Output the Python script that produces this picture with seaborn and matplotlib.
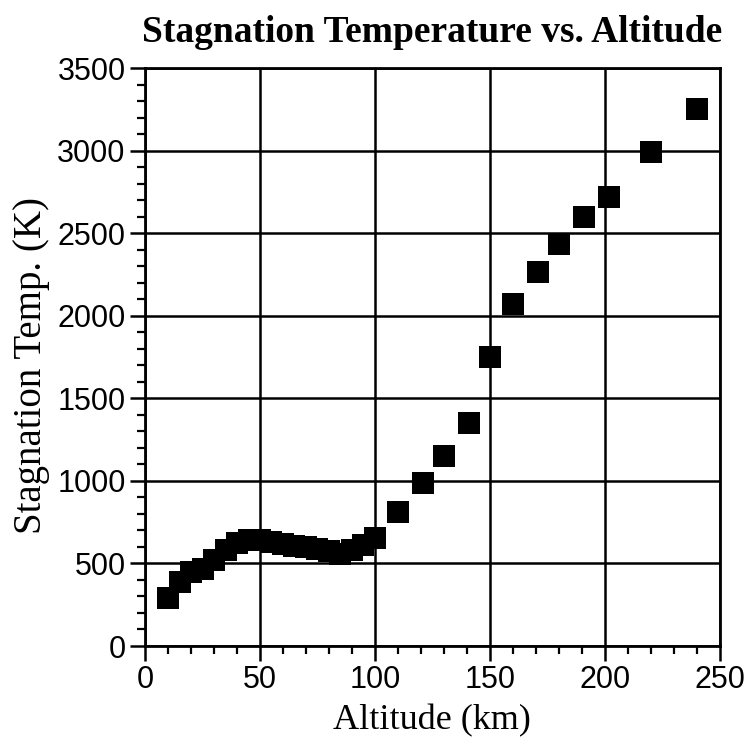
import matplotlib
matplotlib.use("Agg")
import matplotlib.pyplot as plt
from matplotlib.ticker import MultipleLocator
import seaborn as sns
import pandas as pd

# Data
altitude_km = [10, 15, 20, 25, 30, 35, 40, 45, 50, 55, 60, 65, 70, 75, 80, 85, 90, 95, 100,
               110, 121, 130, 141, 150, 160, 171, 180, 191, 202, 220, 240]
stag_temp_K = [292, 386, 447, 467, 519, 580, 624, 640, 640, 632, 620, 608, 598, 588, 578, 560, 580, 610, 655,
               812, 988, 1152, 1352, 1752, 2073, 2267, 2436, 2600, 2721, 2994, 3254]

title_text = "Stagnation Temperature vs. Altitude"
x_label = "Altitude (km)"
y_label = "Stagnation Temp. (K)"
x_ticks = [0, 50, 100, 150, 200, 250]
y_ticks = [0, 500, 1000, 1500, 2000, 2500, 3000, 3500]

df = pd.DataFrame({"alt": altitude_km, "temp": stag_temp_K})

sns.set_theme(style="white")
plt.rcParams["font.family"] = ["Liberation Sans", "DejaVu Sans"]
plt.rcParams["text.color"] = "black"
plt.rcParams["axes.labelcolor"] = "black"

fig = plt.figure(figsize=(7.48, 7.49), dpi=100)
ax = fig.add_axes([0.194, 0.1375, 0.768, 0.7717])

sns.scatterplot(data=df, x="alt", y="temp", marker="s", s=230, color="black",
                linewidth=0, ax=ax, zorder=3, legend=False)

ax.set_xlim(0, 250)
ax.set_ylim(0, 3500)
ax.set_xticks(x_ticks)
ax.set_yticks(y_ticks)
ax.xaxis.set_minor_locator(MultipleLocator(10))
ax.yaxis.set_minor_locator(MultipleLocator(100))
ax.grid(True, which="major", color="black", linewidth=1.8, zorder=1)
ax.set_axisbelow(True)

for sp in ax.spines.values():
    sp.set_color("black")
    sp.set_linewidth(2.0)

ax.tick_params(axis="both", which="major", direction="out", length=11, width=1.8,
               colors="black", labelcolor="black", labelsize=22, pad=3, left=True, bottom=True)
ax.tick_params(axis="both", which="minor", direction="out", length=6, width=1.6,
               colors="black", left=True, bottom=True)
for lab in ax.get_xticklabels() + ax.get_yticklabels():
    lab.set_family(["Liberation Sans", "DejaVu Sans"])

ax.set_xlabel(x_label, fontsize=26, color="black",
              family=["Liberation Serif", "DejaVu Serif"], labelpad=6)
ax.set_ylabel(y_label, fontsize=28, color="black",
              family=["Liberation Serif", "DejaVu Serif"])
ax.yaxis.set_label_coords(-0.165, 0.485)
fig.text(0.578, 0.957, title_text, ha="center", va="center", fontsize=27,
         fontweight="bold", color="black", family=["Liberation Serif", "DejaVu Serif"])

fig.savefig("out.png", dpi=100, facecolor="white")
